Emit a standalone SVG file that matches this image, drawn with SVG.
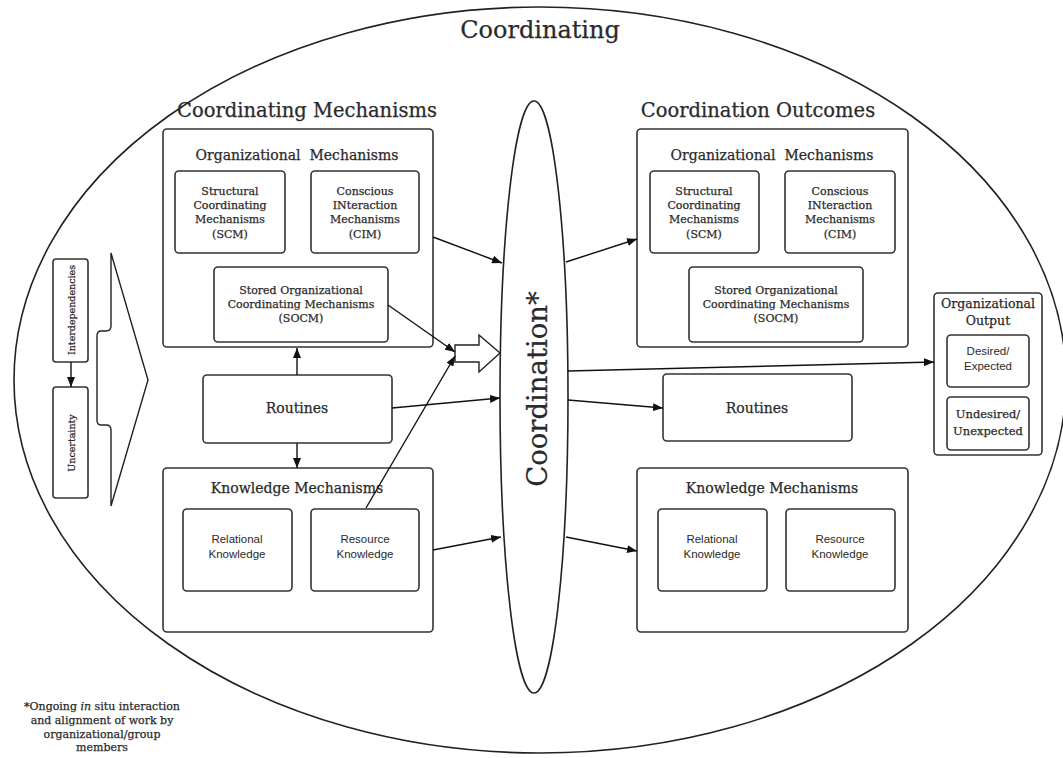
<svg xmlns="http://www.w3.org/2000/svg" width="1063" height="758" viewBox="0 0 1063 758">
<defs>
<style>
.box{fill:#fff;stroke:#333;stroke-width:1.6}
.ln{fill:none;stroke:#111;stroke-width:1.4}
.ser{font-family:"DejaVu Serif","Liberation Serif",serif;fill:#2a2a2a;stroke:#2a2a2a;stroke-width:0.25;text-anchor:middle}
.sans{font-family:"Liberation Sans","Arial",sans-serif;fill:#2a2a2a;text-anchor:middle}
.h1{font-size:24px}
.h2{font-size:19.5px}
.h3{font-size:14px}
.sm{font-size:11px}
.ss{font-size:11.5px}
</style>
<marker id="ah" viewBox="0 0 10 8" refX="10" refY="4" markerWidth="10" markerHeight="8" markerUnits="userSpaceOnUse" orient="auto">
<path d="M0,0 L10,4 L0,8 Z" fill="#111"/>
</marker>
</defs>
<rect width="1063" height="758" fill="#fff"/>

<g id="outer">
<ellipse cx="540" cy="380" rx="526" ry="373" fill="none" stroke="#222" stroke-width="1.6"/>
<text class="ser h1" x="540" y="38">Coordinating</text>
</g>

<g id="coordinating-mechanisms">
<text class="ser h2" x="307" y="117">Coordinating Mechanisms</text>
<rect class="box" x="163" y="129" width="270" height="218" rx="4"/>
<text class="ser h3" x="297" y="160" xml:space="preserve">Organizational  Mechanisms</text>
</g>
<g id="scm-left">
<rect class="box" x="175" y="171" width="110" height="82" rx="4"/>
<text class="ser sm" x="230" y="195">Structural</text>
<text class="ser sm" x="230" y="209">Coordinating</text>
<text class="ser sm" x="230" y="223">Mechanisms</text>
<text class="ser sm" x="230" y="238">(SCM)</text>
</g>
<g id="cim-left">
<rect class="box" x="311" y="171" width="108" height="82" rx="4"/>
<text class="ser sm" x="365" y="195">Conscious</text>
<text class="ser sm" x="365" y="209">INteraction</text>
<text class="ser sm" x="365" y="223">Mechanisms</text>
<text class="ser sm" x="365" y="238">(CIM)</text>
</g>
<g id="socm-left">
<rect class="box" x="214" y="267" width="174" height="75" rx="4"/>
<text class="ser sm" x="301" y="294">Stored Organizational</text>
<text class="ser sm" x="301" y="308">Coordinating Mechanisms</text>
<text class="ser sm" x="301" y="322">(SOCM)</text>
</g>
<g id="routines-left">
<rect class="box" x="203" y="375" width="189" height="68" rx="4"/>
<text class="ser h3" x="297" y="413">Routines</text>
</g>
<g id="knowledge-left">
<rect class="box" x="163" y="468" width="270" height="164" rx="4"/>
<text class="ser h3" x="297" y="493">Knowledge Mechanisms</text>
</g>
<g id="relational-left">
<rect class="box" x="183" y="509" width="109" height="82" rx="4"/>
<text class="sans ss" x="237" y="543">Relational</text>
<text class="sans ss" x="237" y="558">Knowledge</text>
</g>
<g id="resource-left">
<rect class="box" x="311" y="509" width="108" height="82" rx="4"/>
<text class="sans ss" x="365" y="543">Resource</text>
<text class="sans ss" x="365" y="558">Knowledge</text>
</g>

<g id="coordination-outcomes">
<text class="ser h2" x="758" y="117">Coordination Outcomes</text>
<rect class="box" x="637" y="129" width="271" height="218" rx="4"/>
<text class="ser h3" x="772" y="160" xml:space="preserve">Organizational  Mechanisms</text>
</g>
<g id="scm-right">
<rect class="box" x="650" y="171" width="109" height="82" rx="4"/>
<text class="ser sm" x="704" y="195">Structural</text>
<text class="ser sm" x="704" y="209">Coordinating</text>
<text class="ser sm" x="704" y="223">Mechanisms</text>
<text class="ser sm" x="704" y="238">(SCM)</text>
</g>
<g id="cim-right">
<rect class="box" x="785" y="171" width="110" height="82" rx="4"/>
<text class="ser sm" x="840" y="195">Conscious</text>
<text class="ser sm" x="840" y="209">INteraction</text>
<text class="ser sm" x="840" y="223">Mechanisms</text>
<text class="ser sm" x="840" y="238">(CIM)</text>
</g>
<g id="socm-right">
<rect class="box" x="689" y="267" width="174" height="75" rx="4"/>
<text class="ser sm" x="776" y="294">Stored Organizational</text>
<text class="ser sm" x="776" y="308">Coordinating Mechanisms</text>
<text class="ser sm" x="776" y="322">(SOCM)</text>
</g>
<g id="routines-right">
<rect class="box" x="663" y="374" width="189" height="67" rx="4"/>
<text class="ser h3" x="757" y="413">Routines</text>
</g>
<g id="knowledge-right">
<rect class="box" x="637" y="468" width="271" height="164" rx="4"/>
<text class="ser h3" x="772" y="493">Knowledge Mechanisms</text>
</g>
<g id="relational-right">
<rect class="box" x="658" y="509" width="109" height="82" rx="4"/>
<text class="sans ss" x="712" y="543">Relational</text>
<text class="sans ss" x="712" y="558">Knowledge</text>
</g>
<g id="resource-right">
<rect class="box" x="786" y="509" width="109" height="82" rx="4"/>
<text class="sans ss" x="840" y="543">Resource</text>
<text class="sans ss" x="840" y="558">Knowledge</text>
</g>

<g id="organizational-output">
<rect class="box" x="934" y="293" width="108" height="162" rx="4"/>
<text class="ser" font-size="12.5" x="988" y="308">Organizational</text>
<text class="ser" font-size="12.5" x="988" y="325">Output</text>
</g>
<g id="desired">
<rect class="box" x="947" y="335" width="82" height="52" rx="4"/>
<text class="sans ss" x="988" y="355">Desired/</text>
<text class="sans ss" x="988" y="370">Expected</text>
</g>
<g id="undesired">
<rect class="box" x="947" y="397" width="82" height="53" rx="4"/>
<text class="ser" font-size="11.5" x="988" y="418">Undesired/</text>
<text class="ser" font-size="11.5" x="988" y="435">Unexpected</text>
</g>

<g id="interdependencies">
<rect class="box" x="53" y="259" width="35" height="103" rx="3"/>
<text class="ser" font-size="9.5" x="75" y="310" transform="rotate(-90 75 310)">Interdependencies</text>
</g>
<g id="uncertainty">
<rect class="box" x="53" y="387" width="35" height="111" rx="3"/>
<text class="ser" font-size="9.5" x="75" y="443" transform="rotate(-90 75 443)">Uncertainty</text>
</g>
<g id="chevron">
<path d="M111,253 L111,326 Q111,331 106,331 L101,331 Q97,331 97,336 L97,420 Q97,425 101,425 L106,425 Q111,425 111,430 L111,506 L148,380 Z" fill="#fff" stroke="#222" stroke-width="1.4"/>
</g>

<g id="coordination">
<ellipse cx="534" cy="397" rx="34" ry="296" fill="#fff" stroke="#222" stroke-width="1.6"/>
<text class="ser" font-size="27.5" x="547" y="389" transform="rotate(-90 547 389)">Coordination*</text>
</g>

<g id="block-arrow">
<path d="M455,345 L479,345 L479,335 L500,353 L479,372 L479,362 L455,362 Z" fill="#fff" stroke="#222" stroke-width="1.4"/>
</g>

<g id="connectors">
<line class="ln" x1="71" y1="362" x2="71" y2="387" marker-end="url(#ah)"/>
<line class="ln" x1="297" y1="375" x2="297" y2="348" marker-end="url(#ah)"/>
<line class="ln" x1="297" y1="443" x2="297" y2="468" marker-end="url(#ah)"/>
<line class="ln" x1="433" y1="237" x2="502" y2="263" marker-end="url(#ah)"/>
<line class="ln" x1="388" y1="305" x2="455" y2="352" marker-end="url(#ah)"/>
<line class="ln" x1="366" y1="508" x2="455" y2="356" marker-end="url(#ah)"/>
<line class="ln" x1="392" y1="408" x2="500" y2="398" marker-end="url(#ah)"/>
<line class="ln" x1="433" y1="550" x2="501" y2="537" marker-end="url(#ah)"/>
<line class="ln" x1="566" y1="262" x2="637" y2="239" marker-end="url(#ah)"/>
<line class="ln" x1="568" y1="371" x2="934" y2="362" marker-end="url(#ah)"/>
<line class="ln" x1="568" y1="400" x2="663" y2="408" marker-end="url(#ah)"/>
<line class="ln" x1="566" y1="537" x2="637" y2="551" marker-end="url(#ah)"/>
</g>

<g id="footnote">
<text class="ser sm" x="102" y="710">*Ongoing <tspan font-style="italic">in</tspan> situ interaction</text>
<text class="ser sm" x="102" y="724">and alignment of work by</text>
<text class="ser sm" x="102" y="738">organizational/group</text>
<text class="ser sm" x="102" y="751">members</text>
</g>
</svg>
